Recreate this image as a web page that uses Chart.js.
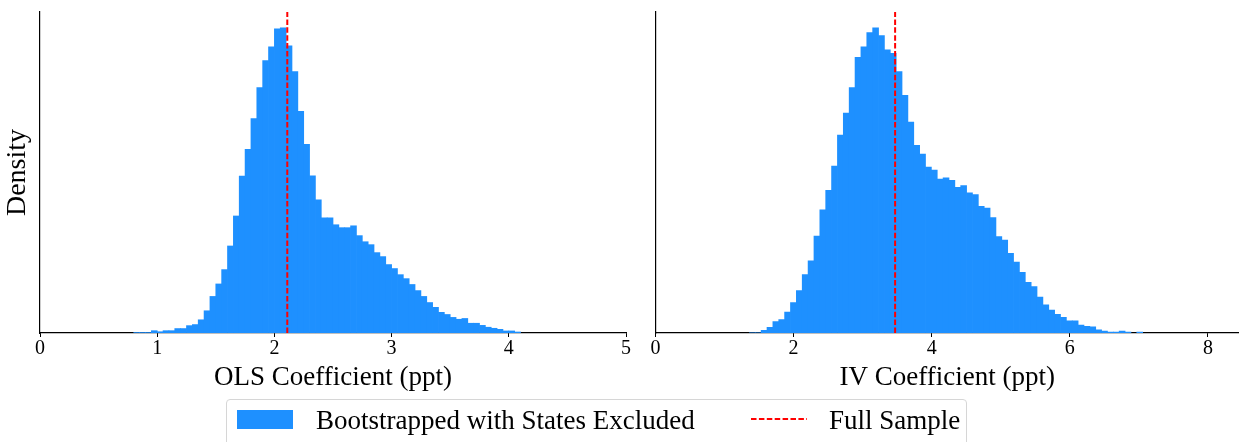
<!DOCTYPE html>
<html>
<head>
<meta charset="utf-8">
<script src="https://cdn.jsdelivr.net/npm/chart.js@4.4.1/dist/chart.umd.min.js"></script>
<style>
  html, body { margin:0; padding:0; background:#fff; overflow:hidden; }
  body { width:1239px; height:442px; position:relative; font-family:"Liberation Serif", serif; }
  canvas { position:absolute; top:0; }
  #olsChart { left:0; }
  #ivChart { left:640px; }
  .legend { position:absolute; left:226px; top:399px; width:741px; height:60px;
    border:1px solid #d6d6d6; border-radius:4px; box-sizing:border-box; }
  .patch { position:absolute; left:237px; top:410px; width:56px; height:19px; background:#1E90FF; }
  .ltext { position:absolute; top:407px; font-size:27px; line-height:27px; color:#000; white-space:nowrap; }
  svg.dash { position:absolute; left:750px; top:414px; }
</style>
</head>
<body>
<canvas id="olsChart" width="640" height="400"></canvas>
<canvas id="ivChart" width="599" height="400"></canvas>

<div class="legend"></div>
<div class="patch"></div>
<span class="ltext" style="left:316px">Bootstrapped with States Excluded</span>
<svg class="dash" width="58" height="10"><line x1="1" y1="5" x2="57" y2="5" stroke="#ff0000" stroke-width="2" stroke-dasharray="5.5 2.4"/></svg>
<span class="ltext" style="left:829px">Full Sample</span>

<script>
// OLS bootstrap histogram (bin centers, bin width 0.05)
const olsBins = [0.825, 0.875, 0.925, 0.975, 1.025, 1.075, 1.125, 1.175, 1.225, 1.275,
  1.325, 1.375, 1.425, 1.475, 1.525, 1.575, 1.625, 1.675, 1.725, 1.775,
  1.825, 1.875, 1.925, 1.975, 2.025, 2.075, 2.125, 2.175, 2.225, 2.275,
  2.325, 2.375, 2.425, 2.475, 2.525, 2.575, 2.625, 2.675, 2.725, 2.775,
  2.825, 2.875, 2.925, 2.975, 3.025, 3.075, 3.125, 3.175, 3.225, 3.275,
  3.325, 3.375, 3.425, 3.475, 3.525, 3.575, 3.625, 3.675, 3.725, 3.775,
  3.825, 3.875, 3.925, 3.975, 4.025, 4.075];
const olsDensity = [0.003, 0.003, 0.003, 0.010, 0.006, 0.010, 0.010, 0.018, 0.018, 0.029,
  0.033, 0.051, 0.085, 0.139, 0.186, 0.240, 0.329, 0.442, 0.592, 0.693,
  0.809, 0.926, 1.027, 1.079, 1.147, 1.151, 1.083, 0.986, 0.836, 0.712,
  0.593, 0.503, 0.435, 0.435, 0.409, 0.398, 0.398, 0.405, 0.368, 0.345,
  0.334, 0.304, 0.289, 0.259, 0.244, 0.221, 0.206, 0.184, 0.161, 0.139,
  0.116, 0.098, 0.079, 0.071, 0.060, 0.053, 0.056, 0.038, 0.038, 0.030,
  0.023, 0.019, 0.015, 0.009, 0.009, 0.005];
const olsFull = 2.11;

// IV bootstrap histogram (bin centers, bin width 0.085)
const ivBins = [1.4025, 1.4875, 1.5725, 1.6575, 1.7425, 1.8275, 1.9125, 1.9975, 2.0825, 2.1675,
  2.2525, 2.3375, 2.4225, 2.5075, 2.5925, 2.6775, 2.7625, 2.8475, 2.9325, 3.0175,
  3.1025, 3.1875, 3.2725, 3.3575, 3.4425, 3.5275, 3.6125, 3.6975, 3.7825, 3.8675,
  3.9525, 4.0375, 4.1225, 4.2075, 4.2925, 4.3775, 4.4625, 4.5475, 4.6325, 4.7175,
  4.8025, 4.8875, 4.9725, 5.0575, 5.1425, 5.2275, 5.3125, 5.3975, 5.4825, 5.5675,
  5.6525, 5.7375, 5.8225, 5.9075, 5.9925, 6.0775, 6.1625, 6.2475, 6.3325, 6.4175,
  6.5025, 6.5875, 6.6725, 6.7575, 6.8425, 6.9275, 7.0125];
const ivDensity = [0.001, 0.001, 0.005, 0.010, 0.020, 0.023, 0.036, 0.052, 0.072, 0.099,
  0.122, 0.164, 0.208, 0.241, 0.282, 0.334, 0.371, 0.414, 0.465, 0.483,
  0.507, 0.515, 0.502, 0.478, 0.472, 0.441, 0.401, 0.356, 0.317, 0.302,
  0.280, 0.275, 0.260, 0.262, 0.258, 0.246, 0.249, 0.237, 0.234, 0.214,
  0.211, 0.195, 0.163, 0.157, 0.135, 0.120, 0.103, 0.086, 0.079, 0.061,
  0.048, 0.039, 0.032, 0.027, 0.021, 0.021, 0.014, 0.012, 0.011, 0.006,
  0.004, 0.002, 0.002, 0.004, 0.002, 0.000, 0.002];
const ivFull = 3.47;

const olsTicks = [0, 1, 2, 3, 4, 5];
const ivTicks = [0, 2, 4, 6, 8];
const olsRange = [0, 5];
const ivRange = [0, 8.45];
const olsYMax = 1.209;
const ivYMax = 0.541;

const serif = "'Liberation Serif', serif";
Chart.defaults.font.family = serif;
Chart.defaults.color = "#000";

function makeHist(id, bins, dens, full, xr, ticks, yMax, opts){
  const bars = bins.map((x, i) => ({x, y: dens[i]}));
  return new Chart(document.getElementById(id), {
    type: "bar",
    data: {
      datasets: [
        { type:"line", data:[{x:full, y:0}, {x:full, y:yMax}], borderColor:"#ff0000",
          borderWidth:2, borderDash:[5.5, 2.4], pointRadius:0, fill:false, order:0 },
        { type:"bar", data:bars, backgroundColor:"#1E90FF", borderColor:"#1E90FF", borderWidth:0,
          barPercentage:1.12, categoryPercentage:1, order:1 }
      ]
    },
    options: {
      responsive:false, animation:false,
      layout:{ padding:{ top:12, right:opts.padRight, left:0, bottom:0 } },
      plugins:{ legend:{display:false}, tooltip:{enabled:false} },
      scales:{
        x:{
          type:"linear", min:xr[0], max:xr[1], offset:false,
          afterBuildTicks: s => { s.ticks = ticks.map(v => ({value:v})); },
          afterFit: s => { s.height = 67; },
          ticks:{ font:{family:serif, size:20}, padding:0, maxRotation:0, color:"#000" },
          grid:{ display:true, offset:false, drawOnChartArea:false, drawTicks:true, tickLength:4, color:"#000" },
          border:{ display:true, color:"#000", width:1.2 },
          title:{ display:true, text:opts.xTitle, font:{family:serif, size:27}, padding:{top:0, bottom:6} }
        },
        y:{
          min:0, max:yMax,
          afterFit: s => { s.width = opts.yWidth; },
          ticks:{ display:false },
          grid:{ display:false },
          border:{ display:true, color:"#000", width:1.2 },
          title:{ display:opts.yTitle !== "", text:opts.yTitle, font:{family:serif, size:28}, padding:{top:1, bottom:0} }
        }
      }
    }
  });
}

makeHist("olsChart", olsBins, olsDensity, olsFull, olsRange, olsTicks, olsYMax,
  { xTitle:"OLS Coefficient (ppt)", yTitle:"Density", yWidth:40, padRight:14 });
makeHist("ivChart", ivBins, ivDensity, ivFull, ivRange, ivTicks, ivYMax,
  { xTitle:"IV Coefficient (ppt)", yTitle:"", yWidth:15.5, padRight:0 });
</script>
</body>
</html>
